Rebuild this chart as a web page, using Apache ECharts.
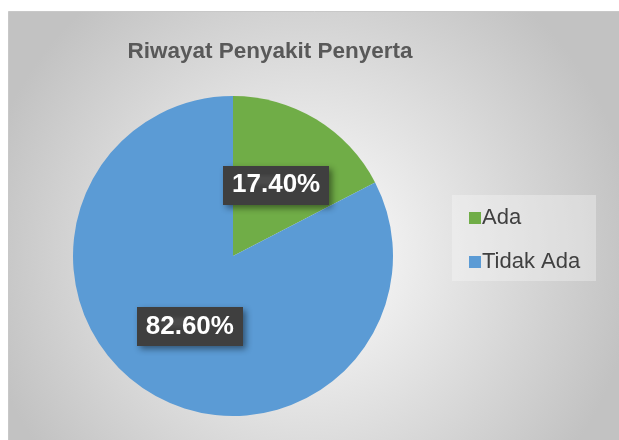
<!DOCTYPE html>
<html><head><meta charset="utf-8">
<script src="https://cdn.jsdelivr.net/npm/echarts@6/dist/echarts.min.js"></script>
<style>html,body{margin:0;padding:0;background:#fff}#c{width:619px;height:440px}</style>
</head><body><div id="c"></div>
<script>
const categories = ['Ada', 'Tidak Ada'];
const values = [17.4, 82.6];
const colors = ['#70ad47', '#5b9bd5'];
const titleText = 'Riwayat Penyakit Penyerta';

// dotted pattern for label backgrounds
const pc = document.createElement('canvas');
pc.width = 8; pc.height = 8;
const pctx = pc.getContext('2d');
pctx.fillStyle = '#3f3f3f'; pctx.fillRect(0,0,8,8);
pctx.fillStyle = '#4b4b4b'; pctx.fillRect(2,2,2,2);

const chart = echarts.init(document.getElementById('c'), null, {renderer:'canvas'});
chart.setOption({
  animation: false,
  graphic: [{
    type: 'rect', z: -10, silent: true,
    shape: {x: 8.5, y: 11.5, width: 620, height: 440},
    style: {
      fill: new echarts.graphic.RadialGradient(0.48, 0.55, 0.75, [
        {offset: 0, color: '#ffffff'},
        {offset: 1, color: '#c2c2c2'}
      ]),
      stroke: '#c8c8c8', lineWidth: 1
    }
  }, {
    type: 'rect', z: -5, silent: true,
    shape: {x: 452, y: 195, width: 144, height: 86},
    style: {fill: 'rgba(250,250,250,0.35)'}
  }],
  title: {
    text: titleText, left: 265, top: 35, textAlign: 'center',
    textStyle: {fontFamily: 'Liberation Sans, Arial', fontWeight: 'bold', fontSize: 22.5, color: '#595959'}
  },
  legend: {
    orient: 'vertical', left: 464, top: 200, itemWidth: 12, itemHeight: 12, itemGap: 18,
    icon: 'rect',
    textStyle: {fontFamily: 'Liberation Sans, Arial', fontSize: 22, lineHeight: 26, color: '#404040', padding: [0,0,0,-4]},
    data: categories
  },
  series: [{
    type: 'pie', center: [233, 256], radius: 160, startAngle: 90, clockwise: true,
    color: colors,
    label: {
      show: true, position: 'inside',
      formatter: p => p.value.toFixed(2) + '%',
      fontFamily: 'Liberation Sans, Arial', fontWeight: 'bold', fontSize: 26, color: '#ffffff',
      backgroundColor: {image: pc, repeat: 'repeat'},
      padding: [7, 9, 6, 9],
      shadowColor: 'rgba(0,0,0,0.45)', shadowBlur: 6, shadowOffsetX: 3, shadowOffsetY: 3
    },
    labelLine: {show: false},
    itemStyle: {borderWidth: 0},
    emphasis: {disabled: true},
    data: categories.map((c, i) => ({name: c, value: values[i]}))
  }]
});
</script></body></html>
